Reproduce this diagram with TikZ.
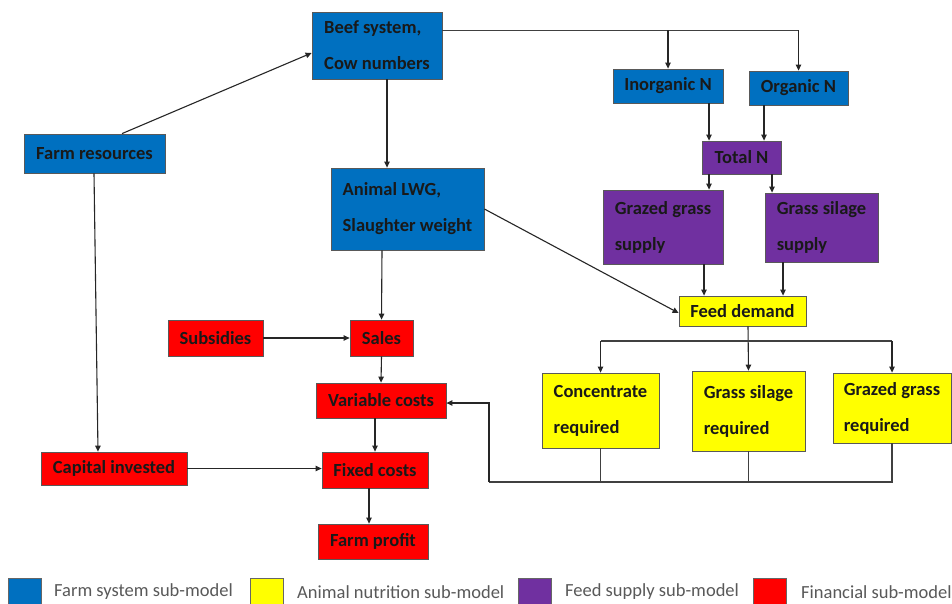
\documentclass[tikz,border=0pt]{standalone}
\usepackage{fontspec}
\setmainfont{Carlito}
\usetikzlibrary{arrows.meta}
\definecolor{cblue}{HTML}{0070C0}
\definecolor{cyel}{HTML}{FFFF00}
\definecolor{cpur}{HTML}{7030A0}
\definecolor{cred}{HTML}{FF0000}
\definecolor{legtext}{HTML}{595959}
\tikzset{
  box/.style={draw=black!65, line width=0.8pt, inner sep=0pt, text=black!90,
    font=\fontsize{18.5}{36}\selectfont\bfseries, align=left},
  fs/.style={box, fill=cblue},
  an/.style={box, fill=cyel},
  fsup/.style={box, fill=cpur},
  fin/.style={box, fill=cred},
  arr/.style={draw=black!85, line width=1.1pt, -{Triangle[length=6pt,width=5.5pt]}},
  ln/.style={draw=black!75, line width=1.1pt},
  legbox/.style={draw=black!60, line width=0.8pt, minimum width=33, minimum height=28, inner sep=0pt},
  legtxt/.style={text=legtext, font=\fontsize{18.5}{20}\selectfont, anchor=west, inner sep=0pt}
}
\begin{document}
\begin{tikzpicture}[x=1pt,y=-1pt]
\clip (0,0) rectangle (952,604);
\fill[white] (0,0) rectangle (952,604);
% blue
\node[fs, minimum width=130, minimum height=67] (beef) at (377,45.5) {Beef system,\\Cow numbers};
\node[fs, minimum width=141, minimum height=39] (fr) at (94.5,153.5) {Farm resources};
\node[fs, minimum width=153, minimum height=82] (lwg) at (407.5,209) {Animal LWG,\\Slaughter weight};
\node[fs, minimum width=110, minimum height=34] (inorg) at (668,86) {Inorganic N};
\node[fs, minimum width=99, minimum height=34] (org) at (798.5,88) {Organic N};
% purple
\node[fsup, minimum width=79, minimum height=33] (totn) at (741.5,157.5) {Total N};
\node[fsup, minimum width=120, minimum height=74] (ggs) at (663,227) {Grazed grass\\supply};
\node[fsup, minimum width=113, minimum height=69] (gss) at (821.5,227.5) {Grass silage\\supply};
% yellow
\node[an, minimum width=127, minimum height=30] (fd) at (742.5,311) {Feed demand};
\node[an, minimum width=117, minimum height=75] (conc) at (600.5,410.5) {Concentrate\\required};
\node[an, minimum width=113, minimum height=80] (gsr) at (748.5,411) {Grass silage\\required};
\node[an, minimum width=118, minimum height=70] (ggr) at (892,408) {Grazed grass\\required};
% red
\node[fin, minimum width=95, minimum height=36] (subs) at (215.5,338) {Subsidies};
\node[fin, minimum width=63, minimum height=36] (sales) at (381.5,338) {Sales};
\node[fin, minimum width=130, minimum height=35] (var) at (381,400.5) {Variable costs};
\node[fin, minimum width=106, minimum height=36] (fix) at (375,470) {Fixed costs};
\node[fin, minimum width=146, minimum height=33] (cap) at (114,468.5) {Capital invested};
\node[fin, minimum width=110, minimum height=35] (prof) at (373,541.5) {Farm profit};
% connectors
\coordinate (tr) at (798.5,30.5);
\coordinate (fj) at (748,341);
\coordinate (bl) at (489,482);
\draw[arr] ([xshift=27.5]fr.north) -- ([yshift=-7.5]beef.west);
\draw[arr] ([xshift=10]beef.south) -- ([xshift=-20.5]lwg.north);
\draw[ln] ([yshift=15]beef.east) -- (tr);
\draw[arr] (tr) -- (org.north);
\draw[arr] (inorg.north |- tr) -- (inorg.north);
\draw[arr] ([xshift=41]inorg.south) -- ([xshift=41]inorg.south |- totn.north);
\draw[arr] ([xshift=-34.5]org.south) -- ([xshift=-34.5]org.south |- totn.north);
\draw[arr] ([xshift=-32.5]totn.south) -- ([xshift=-32.5]totn.south |- ggs.north);
\draw[arr] ([xshift=30.5]totn.south) -- ([xshift=30.5]totn.south |- gss.north);
\draw[arr] ([xshift=41]ggs.south) -- ([xshift=41]ggs.south |- fd.north);
\draw[arr] ([xshift=-38.5]gss.south) -- ([xshift=-38.5]gss.south |- fd.north);
\draw[arr] (lwg.east) -- ([yshift=-2]fd.west);
\draw[arr] ([xshift=5.5]fd.south) -- (gsr.north);
\draw[ln] (conc.north |- fj) -- (ggr.north |- fj);
\draw[arr] (conc.north |- fj) -- (conc.north);
\draw[arr] (ggr.north |- fj) -- (ggr.north);
\draw[ln] (conc.south) -- (conc.south |- bl);
\draw[ln] (gsr.south) -- (gsr.south |- bl);
\draw[ln] (ggr.south) -- (ggr.south |- bl) -- (bl);
\draw[arr] (bl) |- ([yshift=-2.5]var.east);
\draw[arr] ([xshift=-25.5]lwg.south) -- (sales.north);
\draw[arr] (subs) -- (sales);
\draw[arr] (sales.south) -- (var.north);
\draw[arr] (var.south -| fix.north) -- (fix.north);
\draw[arr] (cap.east) -- (fix.west |- cap.east);
\draw[arr] ([xshift=-6]fix.south) -- ([xshift=-6]fix.south |- prof.north);
\draw[arr] ([xshift=-0.5]fr.south) -- ([xshift=-16]cap.north);
% legend
\node[legbox, fill=cblue, anchor=north west] (l1) at (8,578) {};
\node[legtxt] (t1) at (54,592) {Farm system sub-model};
\node[legbox, fill=cyel, anchor=north west] (l2) at (250,578) {};
\node[legtxt] (t2) at (297,592) {Animal nutrition sub-model};
\node[legbox, fill=cpur, anchor=north west] (l3) at (518,578) {};
\node[legtxt] (t3) at (565,592) {Feed supply sub-model};
\node[legbox, fill=cred, anchor=north west] (l4) at (753,578) {};
\node[legtxt] (t4) at (801,592) {Financial sub-model};
\end{tikzpicture}
\end{document}
